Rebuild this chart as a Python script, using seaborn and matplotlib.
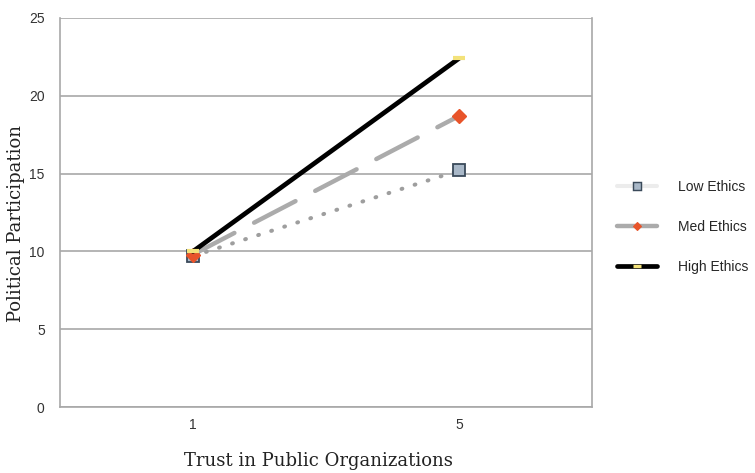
import matplotlib
matplotlib.use("Agg")
import matplotlib.pyplot as plt
import seaborn as sns
import pandas as pd
from matplotlib.lines import Line2D
from matplotlib.legend_handler import HandlerLine2D

trust_levels = ["1", "5"]
low_ethics = [9.7, 15.2]
med_ethics = [9.8, 18.7]
high_ethics = [10.0, 22.4]
y_ticks = [0, 5, 10, 15, 20, 25]
series_names = ["Low Ethics", "Med Ethics", "High Ethics"]

df = pd.DataFrame({
    "pos": list(range(len(trust_levels))) * 3,
    "value": low_ethics + med_ethics + high_ethics,
    "series": [n for n in series_names for _ in trust_levels],
})

sns.set_style("white")
fig = plt.figure(figsize=(7.55, 4.73), dpi=100)
ax = fig.add_axes([0.0795, 0.1395, 0.7045, 0.8225])

styles = {
    "Low Ethics": dict(color="#9e9e9e", lw=2.9, ls=(0, (0.2, 3.2)),
                       marker="s", ms=9, mfc="#a9b8c8", mec="#3a4a5a", mew=1.3,
                       leg_color="#ececec"),
    "Med Ethics": dict(color="#ababab", lw=3.2, ls=(0, (10.5, 5)),
                       marker="D", ms=7, mfc="#e8542a", mec="#e8542a", mew=1,
                       leg_color="#ababab"),
    "High Ethics": dict(color="black", lw=3.4, ls="-",
                        marker="_", ms=9, mfc="#f3e27a", mec="#f3e27a", mew=3,
                        leg_color="black"),
}


class RightMarker(HandlerLine2D):
    # legend marker sits towards the right end of the sample line
    def get_xdata(self, legend, xdescent, ydescent, width, height, fontsize):
        xdata, _ = super().get_xdata(legend, xdescent, ydescent, width, height, fontsize)
        return xdata, [-xdescent + width * 0.76]


handles = []
for name in series_names:
    st = styles[name]
    sub = df[df["series"] == name]
    sns.lineplot(data=sub, x="pos", y="value", ax=ax, color=st["color"], linewidth=st["lw"],
                 marker=st["marker"], markersize=st["ms"], markerfacecolor=st["mfc"],
                 markeredgecolor=st["mec"], markeredgewidth=st["mew"], legend=False)
    line = ax.lines[-1]
    line.set_linestyle(st["ls"])
    line.set_dash_capstyle("round")
    handles.append(Line2D([], [], color=st["leg_color"], lw=st["lw"], ls="-",
                          marker=st["marker"], ms=st["ms"] * 0.6, mfc=st["mfc"],
                          mec=st["mec"], mew=st["mew"] * 0.8))

ax.set_xlim(-0.5, len(trust_levels) - 0.5)
ax.set_ylim(0, 25)
ax.set_yticks(y_ticks)
ax.set_yticklabels([str(t) for t in y_ticks], fontsize=10, family="Liberation Sans", color="#333333")
ax.set_xticks(range(len(trust_levels)))
ax.set_xticklabels(trust_levels, fontsize=10, family="Liberation Sans", color="#333333")
ax.set_xticks([-0.5 + i for i in range(len(trust_levels) + 1)], minor=True)
ax.tick_params(axis="x", which="major", length=0, pad=8)
ax.tick_params(axis="x", which="minor", length=4, color="#999999", direction="inout")
ax.tick_params(axis="y", length=5, color="#999999", direction="out", pad=6)

ax.yaxis.grid(True, color="#a8a8a8", linewidth=1.2)
ax.set_axisbelow(True)
for side in ["left", "bottom", "right"]:
    ax.spines[side].set_color("#a8a8a8")
    ax.spines[side].set_linewidth(1.2)
ax.spines["top"].set_visible(False)

ax.set_xlabel("Trust in Public Organizations", family="DejaVu Serif", fontsize=13,
              color="#222222")
ax.set_ylabel("Political Participation", family="DejaVu Serif", fontsize=13,
              color="#222222")
ax.xaxis.set_label_coords(0.485, -0.115)
ax.yaxis.set_label_coords(-0.066, 0.472)

fig.legend(handles, series_names, loc="center left", handler_map={Line2D: RightMarker()},
           bbox_to_anchor=(0.8, 0.52), frameon=False, handlelength=2.9,
           labelspacing=1.85, prop={"family": "Liberation Sans", "size": 10}, handletextpad=1.5)

fig.savefig("out.png", dpi=100)
